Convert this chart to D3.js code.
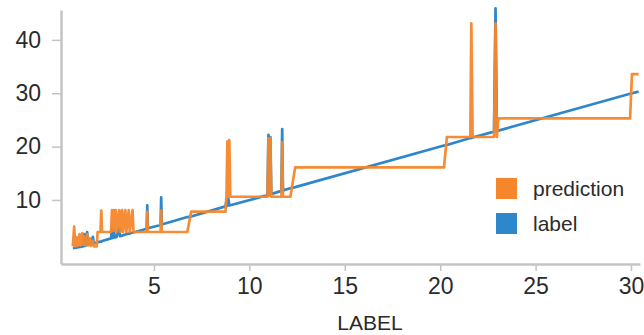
<!DOCTYPE html>
<html>
<head>
<meta charset="utf-8">
<script src="https://cdn.jsdelivr.net/npm/d3@7"></script>
<style>
  body { margin: 0; background: #fff; }
  svg { font-family: "Liberation Sans", Arial, sans-serif; }
</style>
</head>
<body>
<svg id="chart" width="644" height="335"></svg>
<script>
// x = LABEL, then the two series plotted against it
const labelX = [
  0.75, 0.82, 0.88, 0.95, 1.0, 1.1, 1.15, 1.25, 1.3, 1.35, 1.42, 1.5, 1.55, 1.65, 1.7, 1.8, 1.85, 2.0,
  2.05, 2.2, 2.24, 2.28, 2.75, 2.8, 2.85, 2.9, 2.95, 3.0, 3.05, 3.18, 3.23, 3.33, 3.38, 3.5, 3.55,
  3.68, 3.73, 3.88, 3.93, 4.62, 4.65, 4.68, 5.35, 5.38, 5.41, 6.75, 6.95,
  8.75, 8.8, 8.85, 8.9, 8.95, 9.0, 10.95, 11.0, 11.05, 11.1, 11.15, 11.68, 11.72, 11.76, 12.15, 12.4,
  20.2, 20.35, 21.58, 21.63, 21.7, 22.82, 22.9, 22.97, 23.05, 29.95, 30.05, 30.4
];
const labelSeries = [
  1.0, 1.0, 1.0, 1.1, 1.1, 1.2, 1.2, 1.3, 1.3, 3.6, 1.4, 4.0, 1.6, 1.7, 1.7, 3.1, 1.9, 2.0,
  2.1, 2.2, 2.2, 2.3, 2.8, 4.6, 2.9, 4.4, 3.0, 3.0, 3.1, 4.8, 3.2, 3.3, 3.4, 3.5, 3.6,
  3.7, 3.7, 3.9, 3.9, 4.6, 9.0, 4.7, 5.3, 10.5, 5.4, 6.8, 6.9,
  8.8, 10.0, 8.9, 10.2, 9.0, 9.0, 10.9, 22.2, 11.0, 21.8, 11.1, 11.7, 23.3, 11.8, 12.2, 12.4,
  20.2, 20.3, 21.6, 21.6, 21.7, 22.8, 45.9, 22.9, 23.0, 29.9, 30.0, 30.3
];
const predictionSeries = [
  1.3, 5.0, 1.3, 3.0, 1.4, 3.6, 1.5, 3.8, 1.6, 3.2, 1.5, 3.6, 1.5, 2.8, 1.4, 2.4, 1.3, 1.3,
  4.0, 4.0, 8.0, 4.0, 4.0, 8.1, 4.2, 8.1, 4.3, 8.1, 4.0, 8.1, 4.0, 8.1, 4.0, 8.1, 4.0,
  8.1, 4.0, 8.1, 4.0, 4.0, 7.8, 4.0, 4.0, 8.0, 4.0, 4.0, 7.8,
  7.8, 10.6, 21.0, 10.6, 21.2, 10.6, 10.6, 21.6, 10.8, 21.6, 10.6, 10.6, 20.8, 10.6, 10.6, 16.1,
  16.1, 21.8, 21.8, 43.1, 21.8, 21.8, 43.1, 21.8, 25.3, 25.3, 33.6, 33.6
];
const xTicks = [5, 10, 15, 20, 25, 30];
const yTicks = [10, 20, 30, 40];
const seriesNames = ['prediction', 'label'];

const colors = { prediction: '#f5862b', label: '#2f87cb' };

let svg = d3.select('#chart');
let width = 644;
let height = 335;

let margin = { left: 61, right: 4, top: 10, bottom: 71 };

let x = d3.scaleLinear()
  .domain([0.13, 30.47])
  .range([margin.left, width - margin.right]);

let y = d3.scaleLinear()
  .domain([-2, 45.6])
  .range([height - margin.bottom, margin.top]);

let rows = labelX.map((v, i) => ({ x: v, label: labelSeries[i], prediction: predictionSeries[i] }));

let line = key => d3.line()
  .x(d => x(d.x))
  .y(d => y(d[key]));

// label under, prediction on top
svg.append('path')
  .datum(rows)
  .attr('fill', 'none')
  .attr('stroke', colors.label)
  .attr('stroke-width', 2.7)
  .attr('stroke-linejoin', 'round')
  .attr('d', line('label'));

svg.append('path')
  .datum(rows)
  .attr('fill', 'none')
  .attr('stroke', colors.prediction)
  .attr('stroke-width', 2.7)
  .attr('stroke-opacity', 0.95)
  .attr('stroke-linejoin', 'round')
  .attr('d', line('prediction'));

let xAxis = d3.axisBottom(x)
  .tickValues(xTicks)
  .tickSize(7)
  .tickPadding(7)
  .tickSizeOuter(0);

let yAxis = d3.axisLeft(y)
  .tickValues(yTicks)
  .tickSize(9)
  .tickPadding(11)
  .tickSizeOuter(0);

let gx = svg.append('g')
  .attr('transform', `translate(0,${height - margin.bottom})`)
  .call(xAxis);

let gy = svg.append('g')
  .attr('transform', `translate(${margin.left},0)`)
  .call(yAxis);

[gx, gy].forEach(g => {
  g.select('.domain').attr('stroke', '#c4c4c4').attr('stroke-width', 2.5);
  g.selectAll('.tick line').attr('stroke', '#c4c4c4').attr('stroke-width', 1.5);
  g.selectAll('.tick text')
    .attr('fill', '#2b2b2b')
    .style('font-size', '23px')
    .style('font-family', '"Liberation Sans", Arial, sans-serif');
});

svg.append('text')
  .attr('x', 370)
  .attr('y', 330)
  .attr('text-anchor', 'middle')
  .attr('fill', '#2b2b2b')
  .style('font-size', '21px')
  .text('LABEL');

// legend
let legend = svg.append('g').attr('transform', 'translate(496,178)');
legend.selectAll('rect').data(seriesNames).enter().append('rect')
  .attr('x', 0)
  .attr('y', (d, i) => i * 35)
  .attr('width', 21)
  .attr('height', 21)
  .attr('fill', d => colors[d]);
legend.selectAll('text').data(seriesNames).enter().append('text')
  .attr('x', 37)
  .attr('y', (d, i) => i * 35 + 18)
  .attr('fill', '#2b2b2b')
  .style('font-size', '21px')
  .text(d => d);
</script>
</body>
</html>
